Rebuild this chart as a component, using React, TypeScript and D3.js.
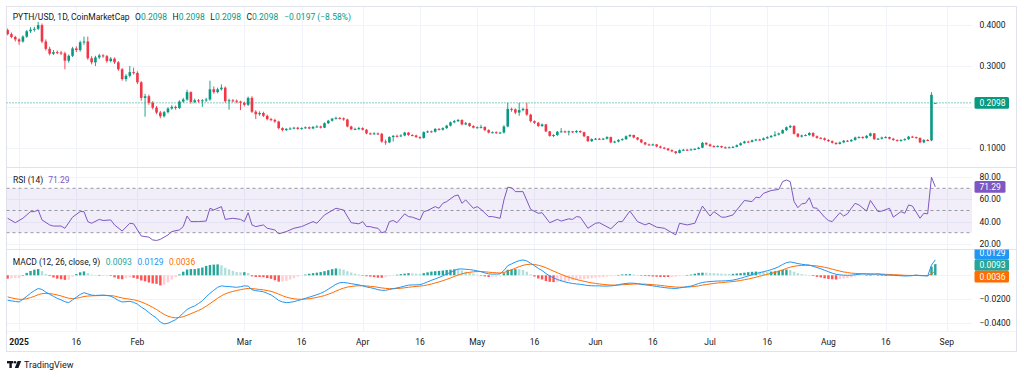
import React from 'react';
import * as d3 from 'd3';

// ---------- DATA ----------
const FIRST_BAR = '2024-12-29';
const opens = [
  0.388,0.378,0.371,0.365,0.360,0.372,0.385,0.389,0.391,0.400,0.360,0.342,0.330,0.334,0.333,0.331,0.313,0.325,0.343,0.339,
  0.358,0.360,0.319,0.309,0.321,0.326,0.324,0.312,0.318,0.309,0.292,0.268,0.276,0.285,0.283,0.260,0.222,0.226,0.210,0.198,
  0.186,0.177,0.187,0.196,0.200,0.197,0.213,0.218,0.236,0.212,0.216,0.214,0.216,0.218,0.243,0.236,0.243,0.247,0.214,0.216,
  0.215,0.213,0.210,0.205,0.222,0.188,0.182,0.185,0.178,0.170,0.168,0.164,0.148,0.143,0.146,0.147,0.149,0.146,0.148,0.150,
  0.147,0.151,0.152,0.149,0.160,0.166,0.171,0.173,0.172,0.169,0.152,0.145,0.146,0.148,0.144,0.135,0.134,0.135,0.134,0.115,
  0.113,0.126,0.129,0.128,0.130,0.137,0.131,0.130,0.126,0.124,0.138,0.140,0.139,0.146,0.144,0.148,0.154,0.162,0.165,0.168,
  0.157,0.160,0.153,0.149,0.150,0.151,0.143,0.137,0.138,0.136,0.137,0.152,0.195,0.194,0.186,0.192,0.195,0.181,0.165,0.161,
  0.153,0.157,0.140,0.129,0.131,0.139,0.140,0.138,0.140,0.138,0.141,0.138,0.128,0.116,0.121,0.122,0.121,0.122,0.126,0.113,
  0.115,0.119,0.121,0.128,0.131,0.125,0.120,0.113,0.108,0.107,0.108,0.103,0.100,0.098,0.094,0.091,0.087,0.094,0.095,0.094,
  0.096,0.097,0.100,0.112,0.108,0.104,0.102,0.104,0.101,0.100,0.101,0.102,0.106,0.111,0.115,0.114,0.118,0.120,0.119,0.123,
  0.126,0.129,0.132,0.135,0.143,0.150,0.153,0.134,0.127,0.130,0.131,0.136,0.128,0.124,0.123,0.119,0.116,0.112,0.109,0.113,
  0.117,0.116,0.119,0.125,0.126,0.124,0.129,0.135,0.121,0.122,0.125,0.126,0.122,0.119,0.117,0.119,0.121,0.127,0.126,0.124,
  0.113,0.119,0.118,0.2098,
];
const highs = [
  0.392,0.382,0.374,0.368,0.375,0.388,0.395,0.396,0.408,0.404,0.365,0.347,0.339,0.338,0.337,0.335,0.328,0.347,0.348,0.362,
  0.372,0.372,0.324,0.325,0.330,0.329,0.327,0.322,0.321,0.312,0.295,0.280,0.300,0.296,0.287,0.263,0.232,0.230,0.214,0.202,
  0.190,0.190,0.199,0.204,0.203,0.216,0.222,0.242,0.238,0.220,0.219,0.219,0.222,0.264,0.250,0.247,0.255,0.250,0.220,0.219,
  0.218,0.215,0.213,0.225,0.226,0.192,0.189,0.188,0.181,0.173,0.171,0.166,0.150,0.148,0.150,0.151,0.151,0.150,0.152,0.152,
  0.153,0.155,0.154,0.162,0.168,0.173,0.176,0.175,0.174,0.171,0.154,0.149,0.151,0.150,0.146,0.137,0.138,0.137,0.136,0.120,
  0.128,0.131,0.132,0.133,0.139,0.138,0.133,0.132,0.128,0.140,0.142,0.142,0.148,0.148,0.150,0.156,0.164,0.168,0.170,0.169,
  0.163,0.161,0.155,0.152,0.156,0.152,0.145,0.140,0.140,0.139,0.155,0.210,0.198,0.196,0.210,0.198,0.210,0.183,0.167,0.163,
  0.159,0.158,0.141,0.133,0.141,0.148,0.142,0.142,0.141,0.143,0.142,0.139,0.129,0.123,0.124,0.124,0.124,0.128,0.127,0.117,
  0.121,0.123,0.130,0.133,0.132,0.126,0.121,0.114,0.110,0.110,0.109,0.105,0.102,0.099,0.096,0.092,0.096,0.097,0.097,0.098,
  0.099,0.102,0.114,0.113,0.110,0.106,0.106,0.105,0.103,0.103,0.104,0.108,0.113,0.117,0.117,0.120,0.122,0.122,0.125,0.128,
  0.131,0.140,0.137,0.145,0.152,0.156,0.155,0.136,0.132,0.133,0.138,0.138,0.130,0.126,0.125,0.121,0.118,0.113,0.115,0.119,
  0.119,0.121,0.127,0.128,0.128,0.131,0.137,0.136,0.124,0.127,0.128,0.127,0.124,0.120,0.121,0.123,0.129,0.129,0.127,0.125,
  0.121,0.121,0.236,0.2098,
];
const lows = [
  0.375,0.368,0.360,0.352,0.357,0.369,0.381,0.384,0.388,0.356,0.338,0.326,0.327,0.329,0.327,0.292,0.308,0.322,0.334,0.335,
  0.352,0.315,0.304,0.300,0.317,0.320,0.308,0.309,0.305,0.288,0.264,0.262,0.272,0.279,0.256,0.215,0.176,0.205,0.194,0.182,
  0.172,0.174,0.184,0.193,0.193,0.195,0.210,0.215,0.208,0.209,0.210,0.200,0.212,0.215,0.232,0.233,0.240,0.210,0.193,0.211,
  0.209,0.192,0.201,0.202,0.185,0.170,0.178,0.175,0.167,0.165,0.161,0.145,0.140,0.141,0.144,0.145,0.144,0.144,0.146,0.145,
  0.145,0.149,0.147,0.148,0.158,0.164,0.169,0.169,0.166,0.150,0.143,0.143,0.143,0.142,0.133,0.132,0.132,0.131,0.112,0.107,
  0.111,0.115,0.125,0.126,0.128,0.129,0.128,0.124,0.121,0.122,0.136,0.137,0.137,0.142,0.142,0.146,0.152,0.160,0.163,0.155,
  0.155,0.151,0.147,0.147,0.147,0.141,0.135,0.135,0.134,0.134,0.135,0.150,0.188,0.182,0.178,0.189,0.178,0.162,0.158,0.151,
  0.151,0.138,0.127,0.126,0.129,0.137,0.136,0.130,0.136,0.136,0.136,0.126,0.114,0.114,0.119,0.119,0.119,0.120,0.111,0.111,
  0.113,0.117,0.119,0.126,0.123,0.118,0.111,0.106,0.105,0.105,0.101,0.098,0.096,0.092,0.089,0.084,0.086,0.092,0.092,0.093,
  0.094,0.096,0.099,0.106,0.102,0.100,0.101,0.099,0.098,0.099,0.099,0.101,0.105,0.110,0.112,0.113,0.116,0.117,0.118,0.122,
  0.124,0.127,0.130,0.134,0.141,0.148,0.132,0.125,0.125,0.128,0.129,0.126,0.122,0.121,0.117,0.114,0.110,0.107,0.108,0.111,
  0.114,0.114,0.117,0.123,0.122,0.122,0.127,0.119,0.119,0.120,0.123,0.120,0.117,0.115,0.115,0.117,0.119,0.124,0.122,0.111,
  0.111,0.116,0.116,0.2098,
];
const closes = [
  0.378,0.371,0.365,0.360,0.372,0.385,0.389,0.391,0.400,0.360,0.342,0.330,0.334,0.333,0.331,0.313,0.325,0.343,0.339,0.358,
  0.360,0.319,0.309,0.321,0.326,0.324,0.312,0.318,0.309,0.292,0.268,0.276,0.285,0.283,0.260,0.222,0.226,0.210,0.198,0.186,
  0.177,0.187,0.196,0.200,0.197,0.213,0.218,0.236,0.212,0.216,0.214,0.216,0.218,0.243,0.236,0.243,0.247,0.214,0.216,0.215,
  0.213,0.210,0.205,0.222,0.188,0.182,0.185,0.178,0.170,0.168,0.164,0.148,0.143,0.146,0.147,0.149,0.146,0.148,0.150,0.147,
  0.151,0.152,0.149,0.160,0.166,0.171,0.173,0.172,0.169,0.152,0.145,0.146,0.148,0.144,0.135,0.134,0.135,0.134,0.115,0.113,
  0.126,0.129,0.128,0.130,0.137,0.131,0.130,0.126,0.124,0.138,0.140,0.139,0.146,0.144,0.148,0.154,0.162,0.165,0.168,0.157,
  0.160,0.153,0.149,0.150,0.151,0.143,0.137,0.138,0.136,0.137,0.152,0.195,0.194,0.186,0.192,0.195,0.181,0.165,0.161,0.153,
  0.157,0.140,0.129,0.131,0.139,0.140,0.138,0.140,0.138,0.141,0.138,0.128,0.116,0.121,0.122,0.121,0.122,0.126,0.113,0.115,
  0.119,0.121,0.128,0.131,0.125,0.120,0.113,0.108,0.107,0.108,0.103,0.100,0.098,0.094,0.091,0.087,0.094,0.095,0.094,0.096,
  0.097,0.100,0.112,0.108,0.104,0.102,0.104,0.101,0.100,0.101,0.102,0.106,0.111,0.115,0.114,0.118,0.120,0.119,0.123,0.126,
  0.129,0.132,0.135,0.143,0.150,0.153,0.134,0.127,0.130,0.131,0.136,0.128,0.124,0.123,0.119,0.116,0.112,0.109,0.113,0.117,
  0.116,0.119,0.125,0.126,0.124,0.129,0.135,0.121,0.122,0.125,0.126,0.122,0.119,0.117,0.119,0.121,0.127,0.126,0.124,0.113,
  0.119,0.118,0.2295,0.2098,
];

// RSI (14): readings, day offsets counted from 2025-01-01
const rsiDay = [
  -3,-1,1,3,4,5,6,8,9,11,12,14,16,17,18,19,21,22,24,25,27,29,30,32,34,35,36,37,39,40,42,43,44,45,47,49,50,51,53,54,56,58,59,60,
  61,62,64,65,67,68,70,72,74,75,77,78,80,83,85,87,89,90,91,92,93,94,95,96,97,98,99,101,102,103,105,106,107,109,110,111,112,114,
  115,116,117,119,120,121,123,124,126,127,128,129,130,132,134,136,137,139,141,142,144,145,146,147,149,151,152,155,157,158,160,
  162,164,165,167,169,170,172,173,175,177,179,181,182,184,185,187,188,190,192,193,194,195,197,199,200,201,202,203,204,205,206,
  207,208,209,211,212,213,215,216,217,218,219,220,222,223,225,226,228,229,231,232,233,234,236,237,238,239,240,
];
const rsiValue = [
  43,39,43,49,49,50.5,41.5,37,36,36,34,44,49,49,40,38.5,42,41,41.5,37,31.5,38.5,38,27,26,23.5,23,24,28,31,32.5,35.5,45,40,40,40.5,
  52,50.5,53.5,42,43,42,40,48,37,35.5,37,34,32.5,29,31,34,35.5,37,40,38.5,46,52,50.5,39,38,40,35.5,35.5,34.5,34,30,31,40,41,39,
  47,44.5,44,41.5,49,50,53.5,52,56.5,58,63,64,56.5,59.5,52,53.5,51,44.5,44.5,43,59.5,71,70.5,67,67,51,47.5,48,39,42,40.5,42.5,
  42,44.5,44,34,38.5,39,33.5,40,40,49.5,40,37,38.5,35,34,32,28,38.5,37,38.5,54,45,49,44,44,46,50.5,59,58,62,61.5,65.5,68,69,76,
  77.5,76,58,52.5,56,56.5,61.5,52.5,52,44,41,40,48,45,47,52,56.5,55,49.5,59,49,49.5,52,44,49,47.5,55,54,43,47.5,47,80,71.29,
];

// MACD (12, 26, close, 9): one value per bar
const macdLine = [
  -0.0208,-0.0213,-0.0218,-0.0222,-0.0200,-0.0175,-0.0150,-0.0128,-0.0110,-0.0118,-0.0140,-0.0158,-0.0175,-0.0192,-0.0205,-0.0220,
  -0.0228,-0.0205,-0.0182,-0.0160,-0.0145,-0.0155,-0.0165,-0.0168,-0.0166,-0.0165,-0.0168,-0.0174,-0.0190,-0.0210,-0.0222,-0.0220,
  -0.0217,-0.0225,-0.0240,-0.0265,-0.0285,-0.0310,-0.0335,-0.0356,-0.0390,-0.0405,-0.0400,-0.0385,-0.0370,-0.0345,-0.0315,-0.0285,
  -0.0268,-0.0255,-0.0235,-0.0212,-0.0180,-0.0150,-0.0125,-0.0100,-0.0088,-0.0092,-0.0094,-0.0097,-0.0100,-0.0095,-0.0088,-0.0090,
  -0.0120,-0.0128,-0.0132,-0.0137,-0.0150,-0.0163,-0.0185,-0.0210,-0.0222,-0.0228,-0.0225,-0.0220,-0.0210,-0.0202,-0.0192,-0.0182,
  -0.0172,-0.0162,-0.0150,-0.0135,-0.0115,-0.0095,-0.0075,-0.0062,-0.0060,-0.0064,-0.0070,-0.0075,-0.0080,-0.0088,-0.0097,-0.0103,
  -0.0110,-0.0120,-0.0125,-0.0125,-0.0118,-0.0112,-0.0105,-0.0098,-0.0090,-0.0082,-0.0080,-0.0080,-0.0078,-0.0068,-0.0055,-0.0042,
  -0.0030,-0.0018,-0.0005,0.0010,0.0025,0.0040,0.0052,0.0053,0.0050,0.0048,0.0043,0.0037,0.0030,0.0020,0.0012,0.0010,
  0.0010,0.0012,0.0040,0.0080,0.0095,0.0110,0.0122,0.0128,0.0120,0.0100,0.0080,0.0058,0.0040,0.0015,-0.0005,-0.0022,
  -0.0035,-0.0045,-0.0055,-0.0062,-0.0068,-0.0072,-0.0075,-0.0080,-0.0085,-0.0087,-0.0088,-0.0088,-0.0090,-0.0090,-0.0088,-0.0085,
  -0.0078,-0.0072,-0.0068,-0.0065,-0.0066,-0.0070,-0.0075,-0.0080,-0.0083,-0.0088,-0.0093,-0.0098,-0.0102,-0.0106,-0.0108,-0.0110,
  -0.0105,-0.0100,-0.0095,-0.0090,-0.0080,-0.0068,-0.0060,-0.0055,-0.0052,-0.0050,-0.0048,-0.0047,-0.0046,-0.0044,-0.0040,-0.0033,
  -0.0025,-0.0015,-0.0005,0.0005,0.0015,0.0022,0.0030,0.0038,0.0047,0.0058,0.0072,0.0090,0.0105,0.0112,0.0105,0.0098,
  0.0092,0.0088,0.0085,0.0075,0.0065,0.0055,0.0042,0.0030,0.0018,0.0008,0.0004,0.0001,0.0000,0.0001,0.0005,0.0008,
  0.0011,0.0010,0.0008,0.0009,0.0011,0.0005,0.0002,0.0001,0.0000,-0.0002,-0.0004,-0.0006,-0.0005,-0.0003,0.0002,-0.0003,
  -0.0004,-0.0006,0.0085,0.0129,
];
const signalLine = [
  -0.0180,-0.0188,-0.0195,-0.0200,-0.0200,-0.0195,-0.0186,-0.0175,-0.0162,-0.0153,-0.0151,-0.0152,-0.0157,-0.0164,-0.0172,-0.0182,
  -0.0191,-0.0194,-0.0192,-0.0185,-0.0177,-0.0173,-0.0171,-0.0170,-0.0169,-0.0168,-0.0168,-0.0169,-0.0173,-0.0181,-0.0189,-0.0195,
  -0.0199,-0.0204,-0.0211,-0.0222,-0.0235,-0.0250,-0.0267,-0.0285,-0.0306,-0.0326,-0.0341,-0.0350,-0.0354,-0.0352,-0.0345,-0.0333,
  -0.0320,-0.0307,-0.0293,-0.0277,-0.0258,-0.0236,-0.0214,-0.0191,-0.0171,-0.0155,-0.0143,-0.0134,-0.0127,-0.0120,-0.0114,-0.0109,
  -0.0111,-0.0114,-0.0118,-0.0121,-0.0127,-0.0134,-0.0144,-0.0157,-0.0170,-0.0182,-0.0190,-0.0196,-0.0199,-0.0200,-0.0198,-0.0195,
  -0.0190,-0.0184,-0.0177,-0.0169,-0.0158,-0.0146,-0.0132,-0.0118,-0.0107,-0.0098,-0.0093,-0.0089,-0.0087,-0.0087,-0.0089,-0.0092,
  -0.0095,-0.0100,-0.0105,-0.0109,-0.0111,-0.0111,-0.0110,-0.0108,-0.0104,-0.0100,-0.0096,-0.0093,-0.0090,-0.0086,-0.0080,-0.0073,
  -0.0064,-0.0055,-0.0045,-0.0034,-0.0022,-0.0010,0.0002,0.0012,0.0020,0.0025,0.0029,0.0031,0.0031,0.0029,0.0026,0.0023,
  0.0021,0.0019,0.0023,0.0034,0.0046,0.0059,0.0072,0.0083,0.0090,0.0092,0.0090,0.0084,0.0075,0.0063,0.0049,0.0035,
  0.0021,0.0008,-0.0005,-0.0016,-0.0026,-0.0035,-0.0043,-0.0050,-0.0057,-0.0063,-0.0068,-0.0072,-0.0076,-0.0079,-0.0081,-0.0082,
  -0.0081,-0.0079,-0.0077,-0.0075,-0.0073,-0.0072,-0.0073,-0.0074,-0.0076,-0.0078,-0.0081,-0.0084,-0.0088,-0.0092,-0.0095,-0.0098,
  -0.0099,-0.0099,-0.0098,-0.0096,-0.0093,-0.0088,-0.0082,-0.0077,-0.0072,-0.0068,-0.0064,-0.0061,-0.0058,-0.0055,-0.0052,-0.0048,
  -0.0043,-0.0037,-0.0031,-0.0024,-0.0016,-0.0008,0.0000,0.0008,0.0016,0.0024,0.0034,0.0045,0.0057,0.0068,0.0075,0.0080,
  0.0082,0.0083,0.0083,0.0081,0.0078,0.0073,0.0067,0.0060,0.0051,0.0043,0.0035,0.0028,0.0023,0.0018,0.0016,0.0014,
  0.0014,0.0013,0.0012,0.0011,0.0011,0.0010,0.0008,0.0007,0.0005,0.0004,0.0002,0.0000,-0.0001,-0.0001,-0.0001,-0.0001,
  -0.0002,-0.0003,0.0013,0.0036,
];

const timeTickDates = ['2025-01-01','2025-01-16','2025-02-01','2025-03-01','2025-03-16','2025-04-01','2025-04-16','2025-05-01',
  '2025-05-16','2025-06-01','2025-06-16','2025-07-01','2025-07-16','2025-08-01','2025-08-16','2025-09-01'];
const timeTickLabels = ['2025','16','Feb','Mar','16','Apr','16','May','16','Jun','16','Jul','16','Aug','16','Sep'];
const priceTicks = [0.1, 0.2, 0.3, 0.4];
const rsiTicks = [20, 40, 60, 80];
const rsiBands = [70, 50, 30];
const macdTicks = [-0.04, -0.02, 0];

// ---------- STYLE ----------
const FONT = 'Roboto, "Noto Sans", sans-serif';
const FS = 8.5;
const TXT = '#131722';
const UP = '#089981';
const DOWN = '#f23645';
const GRID = '#f0f3fa';
const BORDER = '#e0e3eb';
const RSI_C = '#7e57c2';
const MACD_C = '#2196f3';
const SIG_C = '#ff6d00';
const HIST_UP = '#26a69a', HIST_UP_L = '#b2dfdb', HIST_DN = '#ff5252', HIST_DN_L = '#ffcdd2';

export default function App() {
  const W = 1024, H = 377;
  const left = 6.5, right = 972, frameRight = 1016.5;
  const mainTop = 6.5, mainBottom = 167, rsiTop = 167, rsiBottom = 249, macdTop = 249, macdBottom = 331, axisBottom = 351.5;
  const axisX = 979.5;
  const tagH = 11.6;
  const labelClear = 9; // a scale label is hidden when a value tag sits this close

  const parse = d3.utcParse('%Y-%m-%d');
  const first = parse(FIRST_BAR) as Date;
  const jan1 = parse('2025-01-01') as Date;
  const x = d3.scaleUtc()
    .domain([parse('2024-12-27') as Date, new Date(Date.UTC(2025, 8, 7, 21))])
    .range([0, 973]);
  const yP = d3.scaleLinear().domain([0.1, 0.4]).range([147.7, 25.15]);
  const yR = d3.scaleLinear().domain([30, 70]).range([232.7, 188.3]);
  const yM = d3.scaleLinear().domain([-0.04, 0]).range([323.3, 275.3]);

  const bars = closes.map((c, i) => ({
    date: d3.utcDay.offset(first, i), o: opens[i], h: highs[i], l: lows[i], c,
  }));
  const hist = macdLine.map((m, i) => m - signalLine[i]);
  const f4 = d3.format('.4f');
  const f2 = d3.format('.2f');
  const last = bars[bars.length - 1];
  const prev = bars[bars.length - 2];
  const chg = last.c - prev.c;
  const chgPct = chg / prev.c * 100;
  const minus = (s: string) => s.replace('-', '\u2212');

  const bodyW = 2.6;
  const rsiPts = rsiDay.map((d, i) => ({ date: d3.utcDay.offset(jan1, d), v: rsiValue[i] }));
  const rsiPath = d3.line<{ date: Date; v: number }>().x(p => x(p.date)).y(p => yR(p.v))(rsiPts) || '';
  const macdPath = d3.line<number>().x((_, i) => x(bars[i].date)).y(v => yM(v))(macdLine) || '';
  const sigPath = d3.line<number>().x((_, i) => x(bars[i].date)).y(v => yM(v))(signalLine) || '';

  // MACD scale tags with simple collision relaxation
  const lastI = bars.length - 1;
  const tagsRaw = [
    { v: macdLine[lastI], color: MACD_C },
    { v: hist[lastI], color: HIST_UP },
    { v: signalLine[lastI], color: SIG_C },
  ].map(t => ({ ...t, y: yM(t.v) })).sort((a, b) => a.y - b.y);
  for (let k = 0; k < 60; k++) {
    for (let j = 0; j < tagsRaw.length - 1; j++) {
      const gap = tagsRaw[j + 1].y - tagsRaw[j].y;
      if (gap < tagH) {
        const d = (tagH - gap) / 2;
        tagsRaw[j].y -= d;
        tagsRaw[j + 1].y += d;
      }
    }
  }
  const priceTagY = yP(last.c);
  const rsiLast = rsiValue[rsiValue.length - 1];
  const rsiTagY = yR(rsiLast);
  const freeOf = (y: number, tags: number[]) => tags.every(t => Math.abs(t - y) >= labelClear);

  const Tag = ({ y, color, text, w = 34.5 }: { y: number; color: string; text: string; w?: number }) => (
    <g>
      <rect x={974.5} y={y - tagH / 2} width={w} height={tagH} rx={1.5} fill={color} />
      <text x={axisX} y={y + 3} fill="#ffffff" fontSize={FS}>{text}</text>
    </g>
  );

  return (
    <svg width={W} height={H} viewBox={`0 0 ${W} ${H}`}
      style={{ position: 'absolute', left: 0, top: 0, display: 'block', background: '#ffffff' }}
      fontFamily={FONT}>
      <defs>
        <clipPath id="clipMain"><rect x={left} y={mainTop} width={right - left} height={mainBottom - mainTop} /></clipPath>
        <clipPath id="clipRsi"><rect x={left} y={rsiTop} width={right - left} height={rsiBottom - rsiTop} /></clipPath>
        <clipPath id="clipMacd"><rect x={left} y={macdTop + 0.5} width={right - left} height={macdBottom - macdTop - 0.5} /></clipPath>
        <clipPath id="clipMacdAxis"><rect x={right} y={macdTop + 0.5} width={frameRight - right} height={macdBottom - macdTop - 0.5} /></clipPath>
      </defs>
      <rect x={0} y={0} width={W} height={H} fill="#ffffff" />

      {/* vertical grid */}
      {timeTickDates.map(t => {
        const xx = Math.round(x(parse(t) as Date)) + 0.5;
        return <line key={t} x1={xx} x2={xx} y1={mainTop} y2={macdBottom} stroke={GRID} strokeWidth={1} />;
      })}
      {/* horizontal grids */}
      {priceTicks.map(p => (
        <line key={'pg' + p} x1={left} x2={right} y1={Math.round(yP(p)) + 0.5} y2={Math.round(yP(p)) + 0.5} stroke={GRID} />
      ))}
      {rsiTicks.map(v => (
        <line key={'rg' + v} x1={left} x2={right} y1={Math.round(yR(v)) + 0.5} y2={Math.round(yR(v)) + 0.5} stroke={GRID} clipPath="url(#clipRsi)" />
      ))}
      {macdTicks.map(v => (
        <line key={'mg' + v} x1={left} x2={right} y1={Math.round(yM(v)) + 0.5} y2={Math.round(yM(v)) + 0.5} stroke={GRID} />
      ))}

      {/* pane separators & frame */}
      <line x1={left} x2={frameRight} y1={mainBottom + 0.5} y2={mainBottom + 0.5} stroke={BORDER} />
      <line x1={left} x2={frameRight} y1={rsiBottom + 0.5} y2={rsiBottom + 0.5} stroke={BORDER} />
      <line x1={left} x2={frameRight} y1={macdBottom + 0.5} y2={macdBottom + 0.5} stroke={GRID} />
      <rect x={left} y={mainTop} width={frameRight - left} height={axisBottom - mainTop} fill="none" stroke={BORDER} />

      {/* ---- main pane ---- */}
      <g clipPath="url(#clipMain)">
        <line x1={left} x2={right} y1={yP(last.c)} y2={yP(last.c)} stroke={UP} strokeWidth={1} strokeDasharray="1 2" />
        {bars.map((b, i) => {
          const col = b.c >= b.o ? UP : DOWN;
          const cx = x(b.date);
          const top = yP(Math.max(b.o, b.c));
          const bot = yP(Math.min(b.o, b.c));
          return (
            <g key={i}>
              <line x1={cx} x2={cx} y1={yP(b.h)} y2={yP(b.l)} stroke={col} strokeWidth={0.9} />
              <rect x={cx - bodyW / 2} y={top} width={bodyW} height={Math.max(1, bot - top)} fill={col} />
            </g>
          );
        })}
      </g>
      {priceTicks.filter(p => freeOf(yP(p), [priceTagY])).map(p => (
        <text key={'pl' + p} x={axisX} y={yP(p) + 3} fontSize={FS} fill={TXT}>{f4(p)}</text>
      ))}
      <Tag y={priceTagY} color={UP} text={f4(last.c)} />

      {/* legend */}
      <text x={12.7} y={20.3} fontSize={FS} fill={TXT}>
        <tspan>PYTH/USD, 1D, CoinMarketCap</tspan>
        <tspan dx={5.5}>O</tspan><tspan fill={UP}>{f4(last.o)}</tspan>
        <tspan dx={5.5}>H</tspan><tspan fill={UP}>{f4(last.h)}</tspan>
        <tspan dx={5.5}>L</tspan><tspan fill={UP}>{f4(last.l)}</tspan>
        <tspan dx={5.5}>C</tspan><tspan fill={UP}>{f4(last.c)}</tspan>
        <tspan dx={6} fill={UP}>{minus(f4(chg))} ({minus(f2(chgPct))}%)</tspan>
      </text>

      {/* ---- RSI pane ---- */}
      <g clipPath="url(#clipRsi)">
        <rect x={left} y={yR(70)} width={right - left} height={yR(30) - yR(70)} fill={RSI_C} fillOpacity={0.1} />
        {rsiBands.map(v => (
          <line key={'rb' + v} x1={left} x2={right} y1={yR(v)} y2={yR(v)} stroke="#9598a1" strokeWidth={1} strokeDasharray="3 3" />
        ))}
        <path d={rsiPath} fill="none" stroke={RSI_C} strokeWidth={1} />
      </g>
      {rsiTicks.filter(v => freeOf(yR(v), [rsiTagY])).map(v => (
        <text key={'rl' + v} x={axisX} y={yR(v) + 3} fontSize={FS} fill={TXT}>{f2(v)}</text>
      ))}
      <Tag y={rsiTagY} color={RSI_C} text={f2(rsiLast)} w={31} />
      <text x={13} y={183} fontSize={FS} fill={TXT}>
        <tspan>RSI (14)</tspan>
        <tspan dx={5} fill={RSI_C}>{f2(rsiLast)}</tspan>
      </text>

      {/* ---- MACD pane ---- */}
      <g clipPath="url(#clipMacd)">
        {hist.map((h, i) => {
          const p = i > 0 ? hist[i - 1] : h;
          const col = h >= 0 ? (h > p ? HIST_UP : HIST_UP_L) : (h > p ? HIST_DN_L : HIST_DN);
          const cx = x(bars[i].date);
          const y0 = yM(0), y1 = yM(h);
          return <rect key={'h' + i} x={cx - 1.2} y={Math.min(y0, y1)} width={2.4} height={Math.max(0.5, Math.abs(y1 - y0))} fill={col} />;
        })}
        <path d={sigPath} fill="none" stroke={SIG_C} strokeWidth={1} />
        <path d={macdPath} fill="none" stroke={MACD_C} strokeWidth={1} />
      </g>
      <g clipPath="url(#clipMacdAxis)">
        {macdTicks.filter(v => freeOf(yM(v), tagsRaw.map(t => t.y))).map(v => (
          <text key={'ml' + v} x={axisX} y={yM(v) + 3} fontSize={FS} fill={TXT}>{minus(f4(v))}</text>
        ))}
        {tagsRaw.map((t, i) => <Tag key={'mt' + i} y={t.y} color={t.color} text={f4(t.v)} />)}
      </g>
      <text x={12.7} y={265} fontSize={FS} fill={TXT}>
        <tspan>MACD (12, 26, close, 9)</tspan>
        <tspan dx={5.5} fill={HIST_UP}>{f4(hist[lastI])}</tspan>
        <tspan dx={5.5} fill={MACD_C}>{f4(macdLine[lastI])}</tspan>
        <tspan dx={5.5} fill={SIG_C}>{f4(signalLine[lastI])}</tspan>
      </text>

      {/* ---- time axis ---- */}
      {timeTickDates.map((t, i) => (
        <text key={'tl' + t} x={x(parse(t) as Date)} y={345} fontSize={FS} fill={TXT} textAnchor="middle"
          fontWeight={timeTickLabels[i] === '2025' ? 700 : 400}>{timeTickLabels[i]}</text>
      ))}

      {/* TradingView logo */}
      <g fill="#131722">
        <rect x={7} y={361} width={6.2} height={2.4} />
        <rect x={9.4} y={361} width={2.4} height={7} />
        <circle cx={15} cy={362.3} r={1.3} />
        <polygon points="17.6,361 21.2,361 18.4,368 14.8,368" />
      </g>
      <text x={24} y={367.5} fontSize={9} fill={TXT}>TradingView</text>
    </svg>
  );
}
